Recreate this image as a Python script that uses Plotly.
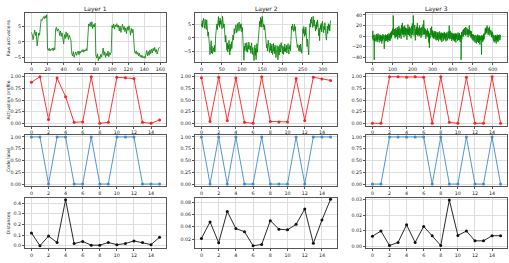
import plotly.graph_objects as go
from plotly.subplots import make_subplots

layer_titles = ["Layer 1", "Layer 2", "Layer 3"]
row_labels = ["Raw activations", "Activation profile", "Code label", "Distances"]

raw_l1 = [3.1, 2.4, 0.7, 2.6, 3.9, 2.1, 3.3, -1.3, 1.8, 2.9,
          2.2, 6.8, 7.4, 7.0, 7.9, 8.3, 7.6, 8.6, 7.8, 8.9,
          -2.3, -2.8, -2.1, -3.0, -2.4, -2.7, -2.0, -2.9, -1.9, -2.6,
          4.2, 4.8, 3.5, 4.3, 3.9, 2.1, 3.6, 1.8, 3.0, 0.2,
          -0.6, 2.4, 1.1, 3.3, 1.5, 2.8, 0.8, 2.2, 1.4, 0.6,
          -3.8, -4.6, -3.2, -5.1, -4.0, -3.3, -4.4, -3.6, -3.0, -4.2,
          -3.1, -3.7, -2.8, -3.3, -2.5, -3.4, -2.6, -3.0, -2.2, -2.9,
          4.8, 5.9, 5.2, 6.4, 5.0, 6.6, 4.4, 5.7, 4.9, 6.1,
          -4.2, -5.3, -3.9, -6.2, -4.8, -5.6, -4.1, -5.0, -3.6, -2.0,
          -4.4, -3.2, -5.1, -3.8, -4.6, -3.0, -4.9, -3.5, -4.2, -3.3,
          5.4, 4.6, 5.9, 4.2, 5.6, 5.0, 6.0, 4.8, 5.5, 3.6,
          5.2, 3.1, 4.7, 5.8, 4.0, 5.1, 3.4, 4.6, 2.7, 4.9,
          3.8, 5.3, 4.1, 2.2, 4.4, 3.0, 4.2, -2.6, -3.3, -3.8,
          -2.9, -4.1, -3.4, -4.6, -3.7, -4.9, -4.3, -5.2, -4.5, -5.3,
          -4.8, -5.4, -4.0, -2.8, -4.6, -3.2, -4.4, -2.6, -3.9, -2.4,
          -3.6, -2.1, -3.0, -1.8, -3.4, -2.5, -4.0, -2.2, -2.0, -1.7]

raw_l2 = [5.2, 4.1, 6.3, 3.8, 5.6, 7.2, 4.4, 5.9, 3.5, 6.8,
          4.0, 5.5, 3.1, 6.6, 2.4, 4.8, 0.6, 2.2, -1.8, 0.9,
          -3.2, -6.1, -2.5, -4.8, -1.0, -5.5, -3.0, -5.8, -4.2, -5.0,
          -3.6, -4.9, -2.7, -5.2, -3.8, 0.8, 3.5, 1.9, 5.1, 3.0,
          6.9, 5.4, 7.8, 4.6, 6.2, 3.9, 7.3, 5.0, 6.5, 4.2,
          5.6, 3.3, 7.9, 4.9, 6.0, 3.8, 5.1, 1.2, 3.4, -1.5,
          0.9, -3.4, -0.6, -4.5, -1.8, -5.2, -2.6, -4.0, -0.9, -3.5,
          -6.2, -2.3, -4.7, -3.1, -1.4, -3.9, -0.5, -2.0, 1.1, -0.8,
          2.1, 3.4, 1.5, 4.0, 2.6, 4.8, 3.1, 1.9, 3.9, 5.3,
          2.4, 4.5, 3.2, 5.8, 4.1, 2.7, 4.9, 3.6, 5.2, 4.0,
          2.2, 3.8, 0.4, -2.5, -5.1, -8.2, -3.0, -4.6, -1.9, -3.8,
          -2.4, -4.9, -1.7, -3.3, -5.2, -2.8, -4.1, -1.5, -3.6, -2.2,
          -4.4, -2.9, -5.6, -3.2, -1.8, -4.7, -6.0, -3.5, -7.1, -4.2,
          -8.3, -5.0, -2.6, -6.4, -3.8, -7.9, -4.5, -2.1, -5.3, -3.0,
          -1.2, 1.8, 4.4, 2.7, 6.1, 4.0, 7.5, 5.2, 6.8, 3.9,
          7.9, 5.5, 6.3, 4.1, 5.0, 2.9, 4.6, 3.3, 1.0, 2.5,
          -1.4, -3.6, -2.2, -4.8, -3.1, -0.8, -4.0, -2.5, -5.3, -3.4,
          -1.9, -4.6, -3.0, -5.5, -2.3, -4.2, -6.1, -3.7, -2.0, -4.9,
          -3.3, -5.8, -2.6, -4.4, -7.2, -3.9, -5.0, -2.8, -4.3, -8.0,
          -5.4, -3.1, -6.3, -4.0, -2.4, -5.2, -3.6, -1.7, -4.5, -3.0,
          -5.7, -2.9, -4.1, -6.0, -3.3, -4.8, -2.2, -5.1, -3.8, -4.6,
          -2.7, -5.5, -3.4, -4.9, -2.1, -4.3, -5.9, -3.2, -4.0, -2.5,
          -4.7, -1.3, 1.9, 4.3, 3.0, 5.1, 3.6, 4.5, 2.4, 3.8,
          5.0, 2.7, 4.1, 1.5, -0.6, -2.8, -1.9, -3.5, -2.4, -4.2,
          -3.0, -4.8, -2.6, -3.7, -5.0, -2.2, -4.1, -3.3, -5.6, -2.9,
          0.8, 3.4, 1.6, 4.2, 2.3, 0.5, 3.1, 1.2, 4.0, 2.0,
          -1.1, -3.2, -0.4, -4.5, -2.0, -6.2, -1.5, 2.7, 5.2, 4.0,
          6.8, 5.3, 7.6, 4.7, 6.2, 3.8, 7.9, 5.6, 4.3, 6.5,
          3.6, 5.4, 2.5, 4.8, 3.2, 5.9, 4.1, 6.6, 2.9, 4.4,
          0.8, 3.5, -1.0, 2.6, 4.7, 3.1, 5.3, 2.2, 4.0, 6.1,
          3.4, 5.0, 1.9, 4.3, 3.0, 5.6, 2.4, 4.6, 0.3, -0.8,
          2.8, 4.4, 1.6, 3.7, 5.2, 3.0, 4.8, 2.5, 5.9, 6.4]

raw_l3 = [-5, 8, 10, -3, -8, 2, -6, -1, -12, -45,
          -4, -9, 3, -2, -7, 1, -5, -10, 0, -6,
          -3, 4, -8, -1, -11, 2, -4, -7, 5, -2,
          -9, -3, 1, -6, -12, 0, -5, 3, -8, -2,
          -6, 2, -10, -4, 1, -7, -3, -14, 0, -5,
          -2, -9, 4, -6, -1, -18, -4, 2, -8, -24,
          -3, -7, 1, -5, -10, 3, -2, -8, 0, -6,
          -4, 2, -9, -1, -6, 4, -3, -11, 1, -5,
          0, -7, 5, -2, -8, 3, -4, 1, -9, 6,
          -1, 4, -5, 8, 2, -3, 10, 1, 6, 12,
          5, 14, 3, 9, 39, 7, 2, 11, 4, 8,
          13, 1, 6, -4, 10, 3, 15, 5, -2, 9,
          4, 12, 0, 8, 17, 3, -6, 10, 5, 14,
          2, 9, 19, 6, -3, 11, 4, 16, 7, 1,
          10, 5, 13, -5, 8, 21, 3, 12, 6, 25,
          9, 2, 15, 7, 18, 4, 11, -2, 8, 14,
          6, 20, 3, 10, 5, 16, 1, 9, 12, 4,
          15, 7, -7, 11, 3, 13, 8, 22, 5, 10,
          2, 14, 9, 6, 18, 0, 11, 4, 16, 7,
          12, 3, 9, -4, 14, 6, 19, 2, 10, 24,
          5, 13, 8, 17, 39, 4, 11, 1, 9, 15,
          6, 21, 3, 12, -8, 10, 7, 14, 2, 18,
          9, 4, 13, 6, 25, 1, 11, 8, 16, 3,
          10, 5, 14, 0, 9, 20, 6, 12, 2, 15,
          7, 11, -3, 13, 4, 17, 8, 1, 10, 5,
          14, 6, 22, 9, 3, 12, 30, 7, 11, 4,
          9, 15, 2, 10, 6, 13, -5, 8, 12, 3,
          7, 11, 0, 9, 4, 14, 6, -2, 10, 5,
          8, -12, 3, 6, -22, 4, 1, 9, -4, 15,
          7, 12, 2, 10, 5, 18, 3, 8, -1, 11,
          4, 9, -3, 6, 1, 8, -5, 3, 10, 0,
          5, -2, 7, -6, 2, 9, -1, 4, -8, 6,
          1, -4, 8, 3, -7, 5, 0, -3, 7, -10,
          2, 6, -5, 4, -1, 9, -6, 3, 0, -4,
          5, -8, 2, 7, -3, 1, -11, 4, -2, 6,
          -5, 3, 0, -9, 5, -2, 2, -6, 8, -1,
          3, -4, 6, -7, 1, -3, 4, -10, 2, 5,
          -2, 7, -5, 0, 4, -8, 3, -1, 9, -4,
          2, 6, -3, 20, 1, -6, 8, 3, -2, 10,
          4, -5, 7, 0, 5, -9, 2, 6, -3, 1,
          -6, 3, -2, 5, -8, 0, 4, -4, 2, -10,
          1, -3, 6, -7, 3, -1, -12, 4, -5, 2,
          -2, 5, -6, 1, -9, 3, -4, 7, -1, -7,
          4, -3, 2, -8, 6, 0, -5, 3, -11, 1,
          -4, 2, -45, 5, -2, 8, -6, 3, 1, 9,
          4, 11, 6, -1, 13, 7, 2, 10, 5, 15,
          8, 3, 12, 6, 17, 1, 9, 14, 4, 11,
          7, 16, 2, 10, 5, 13, 8, -2, 12, 6,
          3, 9, 14, 20, 5, 11, 1, 8, 4, 10,
          6, -3, 7, 2, 9, -1, 4, -6, 3, 0,
          -4, 2, -8, -1, 3, -6, 0, -10, -3, 1,
          -7, -2, -12, 0, -5, 2, -9, -3, -14, -1,
          -6, 1, -4, -11, -2, 3, -8, -5, 0, -13,
          -3, -7, 2, -10, -1, -5, -16, 0, -4, -8,
          -2, -6, 1, -9, -35, -3, 2, -7, -1, -5,
          -11, 0, -4, 3, -8, -2, 5, -6, 1, 4,
          8, 12, 5, 15, 9, 3, 13, 7, 17, 11,
          6, 14, 20, 9, 4, 16, 10, 2, 12, 8,
          15, 5, 11, 18, 7, 1, 13, 9, 4, 10,
          6, 12, 2, 8, -1, 5, 9, -3, 3, 7,
          -2, 4, -6, 1, -9, 2, -4, -12, 0, -5,
          -8, 1, -3, -10, 2, -6, -1, -14, -4, 0,
          -7, -2, 3, -9, -5, 1, -11, -3, -6, 2,
          -4, -8, 0, -5, -2, 3, -7, -1, -3, 2]

profile_l1 = [0.88, 1.0, 0.08, 0.97, 0.57, 0.02, 0.03, 1.0, 0.0, 0.02, 0.99, 0.98, 0.96, 0.02, 0.0, 0.07]
profile_l2 = [0.98, 0.04, 0.99, 0.06, 0.97, 0.02, 0.0, 1.0, 0.04, 0.03, 0.03, 0.96, 0.06, 0.99, 0.95, 0.92]
profile_l3 = [0.0, 0.0, 1.0, 1.0, 0.99, 1.0, 0.99, 0.0, 1.0, 0.02, 0.0, 0.99, 0.0, 0.0, 1.0, 0.0]

code_l1 = [1, 1, 0, 1, 1, 0, 0, 1, 0, 0, 1, 1, 1, 0, 0, 0]
code_l2 = [1, 0, 1, 0, 1, 0, 0, 1, 0, 0, 0, 1, 0, 1, 1, 1]
code_l3 = [0, 0, 1, 1, 1, 1, 1, 0, 1, 0, 0, 1, 0, 0, 1, 0]

dist_l1 = [0.12, 0.0, 0.09, 0.03, 0.43, 0.02, 0.04, 0.005, 0.005, 0.03, 0.01, 0.02, 0.045, 0.03, 0.01, 0.08]
dist_l2 = [0.021, 0.048, 0.014, 0.065, 0.037, 0.032, 0.009, 0.011, 0.050, 0.036, 0.035, 0.044, 0.069, 0.013, 0.051, 0.085]
dist_l3 = [0.0065, 0.0098, 0.0005, 0.0025, 0.0138, 0.0025, 0.0128, 0.0068, 0.0005, 0.0298, 0.007, 0.0098, 0.0035, 0.0035, 0.0068, 0.0068]

raws = [raw_l1, raw_l2, raw_l3]
profiles = [profile_l1, profile_l2, profile_l3]
codes = [code_l1, code_l2, code_l3]
dists = [dist_l1, dist_l2, dist_l3]

W, H = 509, 263
col_px = [(25, 166), (195, 337), (366, 507)]
row_px = [(13.3, 62.3), (74.4, 125.6), (134.6, 186.4), (197.5, 248.0)]

fig = make_subplots(rows=4, cols=3)

FONT = "DejaVu Sans"
TICKFONT = dict(family=FONT, size=4.8, color="#222")

for c in range(3):
    raw = raws[c]
    fig.add_trace(go.Scatter(x=list(range(len(raw))), y=raw, mode="lines",
                             line=dict(color="green", width=0.8)), row=1, col=c + 1)
    n = len(profiles[c])
    fig.add_trace(go.Scatter(x=list(range(n)), y=profiles[c], mode="lines+markers",
                             line=dict(color="#ff2020", width=0.9),
                             marker=dict(color="#ff2020", size=3)), row=2, col=c + 1)
    fig.add_trace(go.Scatter(x=list(range(n)), y=codes[c], mode="lines+markers",
                             line=dict(color="#3d8ccf", width=0.9),
                             marker=dict(color="#3d8ccf", size=3)), row=3, col=c + 1)
    fig.add_trace(go.Scatter(x=list(range(n)), y=dists[c], mode="lines+markers",
                             line=dict(color="#111", width=0.9),
                             marker=dict(color="#111", size=3)), row=4, col=c + 1)

raw_xr = [[-8, 167], [-16, 335], [-32, 671]]
raw_xd = [20, 50, 100]
raw_yr = [[-6.7, 9.4], [-8.9, 9.0], [-49.5, 43.2]]
raw_yd = [5, 5, 20]
dist_yr = [[-0.0215, 0.4515], [0.0053, 0.0879], [-0.0011, 0.0314]]
dist_yd = [0.1, 0.02, 0.01]
dist_fmt = [".1f", ".2f", ".2f"]

common = dict(showline=True, mirror=True, linecolor="#555", linewidth=0.8,
              showgrid=True, gridcolor="#dedede", gridwidth=0.7, zeroline=False,
              ticks="outside", ticklen=2, tickwidth=0.6, tickcolor="#555",
              tickfont=TICKFONT, automargin=False)

for r in range(4):
    for c in range(3):
        idx = r * 3 + c + 1
        xk = "xaxis" if idx == 1 else f"xaxis{idx}"
        yk = "yaxis" if idx == 1 else f"yaxis{idx}"
        x0, x1 = col_px[c]
        t, b = row_px[r]
        xa = dict(common, domain=[x0 / W, x1 / W])
        ya = dict(common, domain=[1 - b / H, 1 - t / H])
        if r == 0:
            xa.update(range=raw_xr[c], tick0=0, dtick=raw_xd[c])
            ya.update(range=raw_yr[c], tick0=0, dtick=raw_yd[c])
        else:
            xa.update(range=[-0.75, 15.75], tick0=0, dtick=2)
            if r in (1, 2):
                ya.update(range=[-0.05, 1.05], tick0=0, dtick=0.25, tickformat=".2f")
            else:
                ya.update(range=dist_yr[c], tick0=0, dtick=dist_yd[c], tickformat=dist_fmt[c])
        fig.layout[xk].update(xa)
        fig.layout[yk].update(ya)

annotations = []
for c in range(3):
    x0, x1 = col_px[c]
    annotations.append(dict(text=layer_titles[c], x=(x0 + x1) / 2 / W, y=1 - 8.5 / H,
                            xref="paper", yref="paper", showarrow=False,
                            xanchor="center", yanchor="middle",
                            font=dict(family=FONT, size=6, color="#222")))
for r in range(4):
    t, b = row_px[r]
    annotations.append(dict(text=row_labels[r], x=8.5 / W, y=1 - (t + b) / 2 / H,
                            xref="paper", yref="paper", showarrow=False, textangle=-90,
                            xanchor="center", yanchor="middle",
                            font=dict(family=FONT, size=4.6, color="#222")))

fig.update_layout(width=W, height=H, margin=dict(l=0, r=0, t=0, b=0),
                  paper_bgcolor="white", plot_bgcolor="white",
                  showlegend=False, annotations=annotations)

fig.write_html("out.html", config={"displayModeBar": False},
               post_script="document.body.style.margin='0';document.body.style.padding='0';")
